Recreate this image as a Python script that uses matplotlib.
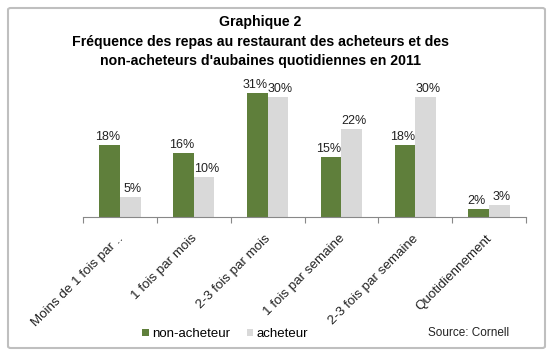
import numpy as np
import matplotlib.pyplot as plt
from matplotlib.patches import FancyBboxPatch

categories = ['Moins de 1 fois par ..', '1 fois par mois', '2-3 fois par mois',
              '1 fois par semaine', '2-3 fois par semaine', 'Quotidiennement']
non_acheteur = [18, 16, 31, 15, 18, 2]
acheteur = [5, 10, 30, 22, 30, 3]

plt.rcParams['font.family'] = ['Liberation Sans', 'DejaVu Sans']

fig = plt.figure(figsize=(5.5, 3.54), dpi=100)
W, H = 550, 354

# outer frame
frame = FancyBboxPatch((8 / W, 6 / H), 537 / W, 340 / H, boxstyle='round,pad=0,rounding_size=0.005',
                       transform=fig.transFigure, facecolor='none', edgecolor='#bfbfbf',
                       linewidth=1.5, zorder=-1)
fig.patches.append(frame)

ax = fig.add_axes([83 / W, (H - 216.5) / H, 443 / W, 131 / H])
x = np.arange(len(categories))
w = 0.28
b1 = ax.bar(x - w / 2, non_acheteur, w, color='#5f7f3b', label='non-acheteur')
b2 = ax.bar(x + w / 2, acheteur, w, color='#d9d9d9', label='acheteur')

for bars, vals, dx in ((b1, non_acheteur, -0.03), (b2, acheteur, 0.03)):
    for r, v in zip(bars, vals):
        ax.text(r.get_x() + r.get_width() / 2 + dx, v + 0.5, f'{v}%', ha='center', va='bottom',
                fontsize=9, color='#222222')

ax.set_xlim(-0.5, len(categories) - 0.5)
ax.set_ylim(0, 33)
ax.set_yticks([])
for s in ['top', 'right', 'left']:
    ax.spines[s].set_visible(False)
ax.spines['bottom'].set_color('#888888')
ax.set_xticks(np.arange(len(categories) + 1) - 0.5)
ax.set_xticklabels([])
ax.tick_params(axis='x', length=4, color='#888888')
for i, c in enumerate(categories):
    ax.text(i - 0.04, -4.0, c, rotation=45, ha='right', va='top', fontsize=9.6,
            color='#222222', rotation_mode='anchor')

fig.text(260 / W, 1 - 22 / H, 'Graphique 2', ha='center', va='center', fontsize=10.2, fontweight='bold')
fig.text(260 / W, 1 - 42 / H, 'Fréquence des repas au restaurant des acheteurs et des',
         ha='center', va='center', fontsize=10.2, fontweight='bold')
fig.text(260 / W, 1 - 61 / H, "non-acheteurs d'aubaines quotidiennes en 2011",
         ha='center', va='center', fontsize=10.2, fontweight='bold')

fig.legend(handles=[b1, b2], loc='center', bbox_to_anchor=(225 / W, 1 - 334 / H), ncol=2,
           frameon=False, fontsize=9.5, handlelength=0.5, handleheight=0.5, handletextpad=0.2,
           columnspacing=1.3)
fig.text(428 / W, 1 - 333 / H, 'Source: Cornell', ha='left', va='center', fontsize=8.5, color='#222222')

fig.savefig('out.png', dpi=100)
